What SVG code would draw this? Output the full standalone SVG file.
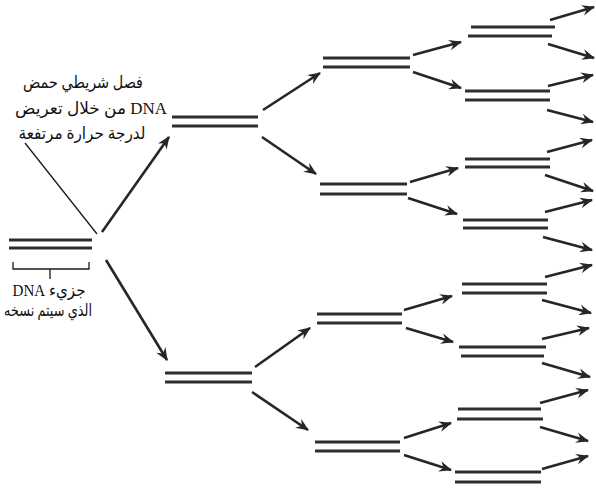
<svg xmlns="http://www.w3.org/2000/svg" width="596" height="491" viewBox="0 0 596 491">
  <style>
    .strand { stroke: #2e2e2e; stroke-width: 3; stroke-linecap: butt; fill: none; }
    .arrow { stroke: #262626; stroke-width: 2.6; fill: none; marker-end: url(#head); }
    .thin { stroke: #1a1a1a; stroke-width: 1.3; fill: none; }
    .label { font-family: "Liberation Serif", "DejaVu Sans", serif; font-size: 17px; fill: #111; }
  </style>
  <defs>
    <marker id="head" viewBox="0 0 12 10" refX="11" refY="5" markerWidth="13" markerHeight="11" markerUnits="userSpaceOnUse" orient="auto">
      <path d="M0,0 L12,5 L0,10 L4,5 Z" fill="#262626"/>
    </marker>
  </defs>

  <rect width="596" height="491" fill="#ffffff"/>

  <!-- captions (right-to-left runs wrapped in RLE ... PDF) -->
  <g id="caption-heat">
    <text class="label" x="83" y="88" text-anchor="middle" textLength="120" lengthAdjust="spacingAndGlyphs">&#x202B;فصل شريطي حمض&#x202C;</text>
    <text class="label" x="91" y="114" text-anchor="middle" textLength="152" lengthAdjust="spacingAndGlyphs">&#x202B;DNA من خلال تعريض&#x202C;</text>
    <text class="label" x="82" y="139" text-anchor="middle" textLength="127" lengthAdjust="spacingAndGlyphs">&#x202B;لدرجة حرارة مرتفعة&#x202C;</text>
  </g>
  <g id="caption-molecule">
    <text class="label" x="49" y="296" text-anchor="middle" textLength="73" lengthAdjust="spacingAndGlyphs">&#x202B;جزيء DNA&#x202C;</text>
    <text class="label" x="48" y="316" text-anchor="middle" textLength="88" lengthAdjust="spacingAndGlyphs">&#x202B;الذي سيتم نسخه&#x202C;</text>
    <path class="thin" d="M13,262 V269 H89 V262 M50,269 V279"/>
  </g>

  <!-- generation 0 -->
  <g id="dna-0">
    <line class="strand" x1="9" y1="240" x2="92" y2="240"/>
    <line class="strand" x1="9" y1="248" x2="92" y2="248"/>
  </g>

  <!-- generation 1 -->
  <g id="dna-1a">
    <line class="strand" x1="172" y1="117" x2="258" y2="117"/>
    <line class="strand" x1="172" y1="126" x2="258" y2="126"/>
  </g>
  <g id="dna-1b">
    <line class="strand" x1="165" y1="373" x2="252" y2="373"/>
    <line class="strand" x1="165" y1="382" x2="252" y2="382"/>
  </g>

  <!-- generation 2 -->
  <g id="dna-2a">
    <line class="strand" x1="323" y1="58" x2="410" y2="58"/>
    <line class="strand" x1="323" y1="67" x2="410" y2="67"/>
  </g>
  <g id="dna-2b">
    <line class="strand" x1="320" y1="184" x2="407" y2="184"/>
    <line class="strand" x1="320" y1="194" x2="407" y2="194"/>
  </g>
  <g id="dna-2c">
    <line class="strand" x1="317" y1="314" x2="402" y2="314"/>
    <line class="strand" x1="317" y1="323" x2="402" y2="323"/>
  </g>
  <g id="dna-2d">
    <line class="strand" x1="315" y1="442" x2="400" y2="442"/>
    <line class="strand" x1="315" y1="451" x2="400" y2="451"/>
  </g>

  <!-- generation 3 -->
  <g id="dna-3a">
    <line class="strand" x1="471" y1="27" x2="555" y2="27"/>
    <line class="strand" x1="468" y1="36" x2="552" y2="36"/>
  </g>
  <g id="dna-3b">
    <line class="strand" x1="465" y1="91" x2="550" y2="91"/>
    <line class="strand" x1="465" y1="100" x2="550" y2="100"/>
  </g>
  <g id="dna-3c">
    <line class="strand" x1="465" y1="159" x2="550" y2="159"/>
    <line class="strand" x1="465" y1="167" x2="550" y2="167"/>
  </g>
  <g id="dna-3d">
    <line class="strand" x1="463" y1="220" x2="548" y2="220"/>
    <line class="strand" x1="463" y1="228" x2="548" y2="228"/>
  </g>
  <g id="dna-3e">
    <line class="strand" x1="462" y1="284" x2="547" y2="284"/>
    <line class="strand" x1="462" y1="293" x2="547" y2="293"/>
  </g>
  <g id="dna-3f">
    <line class="strand" x1="459" y1="347" x2="546" y2="347"/>
    <line class="strand" x1="461" y1="356" x2="544" y2="356"/>
  </g>
  <g id="dna-3g">
    <line class="strand" x1="458" y1="409" x2="541" y2="409"/>
    <line class="strand" x1="457" y1="419" x2="543" y2="419"/>
  </g>
  <g id="dna-3h">
    <line class="strand" x1="455" y1="472" x2="541" y2="472"/>
    <line class="strand" x1="455" y1="482" x2="541" y2="482"/>
  </g>

  <!-- connectors -->
  <g id="connectors">
    <line class="thin" x1="25" y1="143" x2="97" y2="234"/>
    <line class="arrow" x1="102" y1="232" x2="169" y2="137"/>
    <line class="arrow" x1="106" y1="260" x2="167" y2="360"/>

    <line class="arrow" x1="263" y1="110" x2="320" y2="73"/>
    <line class="arrow" x1="262" y1="137" x2="316" y2="174"/>
    <line class="arrow" x1="255" y1="367" x2="310" y2="328"/>
    <line class="arrow" x1="252" y1="392" x2="308" y2="430"/>

    <line class="arrow" x1="413" y1="55" x2="461" y2="42"/>
    <line class="arrow" x1="413" y1="72" x2="461" y2="88"/>
    <line class="arrow" x1="410" y1="182" x2="458" y2="168"/>
    <line class="arrow" x1="408" y1="198" x2="457" y2="214"/>
    <line class="arrow" x1="404" y1="310" x2="452" y2="296"/>
    <line class="arrow" x1="406" y1="328" x2="453" y2="342"/>
    <line class="arrow" x1="404" y1="438" x2="451" y2="423"/>
    <line class="arrow" x1="404" y1="455" x2="451" y2="470"/>

    <line class="arrow" x1="550" y1="20" x2="594" y2="7"/>
    <line class="arrow" x1="548" y1="44" x2="594" y2="58"/>
    <line class="arrow" x1="548" y1="86" x2="593" y2="75"/>
    <line class="arrow" x1="547" y1="110" x2="593" y2="122"/>
    <line class="arrow" x1="547" y1="152" x2="592" y2="140"/>
    <line class="arrow" x1="545" y1="175" x2="593" y2="191"/>
    <line class="arrow" x1="545" y1="212" x2="592" y2="200"/>
    <line class="arrow" x1="543" y1="237" x2="592" y2="250"/>
    <line class="arrow" x1="545" y1="277" x2="592" y2="265"/>
    <line class="arrow" x1="542" y1="300" x2="591" y2="313"/>
    <line class="arrow" x1="542" y1="339" x2="589" y2="328"/>
    <line class="arrow" x1="542" y1="363" x2="590" y2="377"/>
    <line class="arrow" x1="540" y1="403" x2="588" y2="390"/>
    <line class="arrow" x1="540" y1="427" x2="588" y2="441"/>
    <line class="arrow" x1="542" y1="469" x2="588" y2="456"/>
  </g>
</svg>
